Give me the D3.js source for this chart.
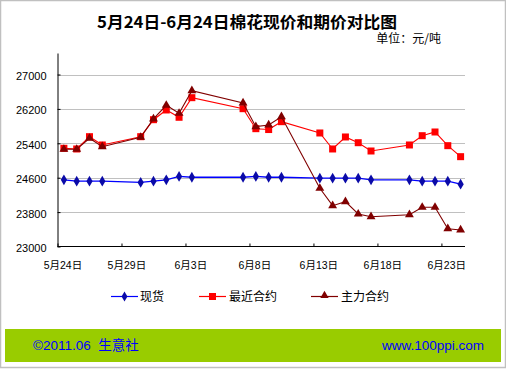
<!DOCTYPE html>
<html><head><meta charset="utf-8">
<script src="https://cdn.jsdelivr.net/npm/d3@7"></script>
<style>body{margin:0;background:#fff}svg{display:block}</style>
</head><body><svg id="c" width="506" height="369"></svg>
<script>
const dates = ["2011-05-24","2011-05-25","2011-05-26","2011-05-27","2011-05-30","2011-05-31","2011-06-01","2011-06-02","2011-06-03","2011-06-07","2011-06-08","2011-06-09","2011-06-10","2011-06-13","2011-06-14","2011-06-15","2011-06-16","2011-06-17","2011-06-20","2011-06-21","2011-06-22","2011-06-23","2011-06-24"];
const spot = [24550,24520,24520,24520,24490,24520,24550,24630,24610,24610,24630,24610,24610,24590,24590,24590,24590,24550,24550,24520,24520,24520,24450];
const nearest = [25284,25268,25554,25361,25554,25949,26175,26005,26461,26205,25740,25720,25903,25640,25268,25547,25414,25221,25361,25577,25663,25345,25089];
const main = [25261,25261,25517,25321,25540,25966,26284,26098,26624,26338,25787,25826,26019,24354,23949,24042,23756,23693,23740,23912,23912,23414,23384];
const yTicks = [23000,23800,24600,25400,26200,27000];
const xTickDates = ["2011-05-24","2011-05-29","2011-06-03","2011-06-08","2011-06-13","2011-06-18","2011-06-23"];
const xTickLabels = ["5月24日","5月29日","6月3日","6月8日","6月13日","6月18日","6月23日"];
const seriesNames = ["现货","最近合约","主力合约"];
const titleText = "5月24日-6月24日棉花现价和期价对比图";
const unitText = "单位：元/吨";
const footLeft = "©2011.06  生意社";
const footRight = "www.100ppi.com";

const svg = d3.select("#c");
const font = "'Liberation Sans','Noto Sans CJK SC',sans-serif";
const parse = d3.timeParse("%Y-%m-%d");
const noon = d => d3.timeHour.offset(parse(d), 12);

svg.append("rect").attr("x",0.5).attr("y",0.5).attr("width",505).attr("height",367)
  .attr("fill","#fff").attr("stroke","#c0c0c0").attr("stroke-width",1.5);

const x = d3.scaleTime().domain([parse("2011-05-24"), parse("2011-06-25")]).range([57.5, 467]);
const y = d3.scaleLinear().domain([23000, 27500]).range([246.5, 53]);

// gridlines
svg.append("g").selectAll("line").data(yTicks.slice(1)).join("line")
  .attr("x1",58).attr("x2",465).attr("y1",d=>Math.round(y(d))+0.5).attr("y2",d=>Math.round(y(d))+0.5)
  .attr("stroke","#c0c0c0").attr("stroke-width",1);

// y axis
const ya = svg.append("g").attr("transform","translate(57.5,0)")
  .call(d3.axisLeft(y).tickValues(yTicks).tickSize(-3).tickPadding(11).tickSizeOuter(0).tickFormat(d3.format("d")));
ya.select(".domain").attr("stroke","#000");
ya.selectAll(".tick line").attr("stroke","#000");
ya.selectAll("text").attr("font-family",font).attr("font-size","11px").attr("fill","#000").attr("dy","0.45em");

// x axis
const xa = svg.append("g").attr("transform","translate(0,246.5)")
  .call(d3.axisBottom(x).tickValues(xTickDates.map(parse)).tickSize(-3).tickSizeOuter(0).tickFormat(""));
xa.select(".domain").attr("stroke","#000").attr("d","M57.5,0H465");
xa.selectAll(".tick line").attr("stroke","#000");
svg.append("g").selectAll("text").data(xTickDates).join("text")
  .attr("x",(d)=>x(noon(d))-1).attr("y",269).attr("text-anchor","middle")
  .attr("font-family",font).attr("font-size","10.5px").attr("fill","#000")
  .text((d,i)=>xTickLabels[i]);

const line = d3.line().x((d,i)=>x(noon(dates[i]))).y(d=>y(d));
const pts = arr => arr.map((v,i)=>({x:x(noon(dates[i])), y:y(v)}));

// spot
svg.append("path").datum(spot).attr("d",line).attr("fill","none").attr("stroke","#0000ff").attr("stroke-width",1.3);
svg.append("g").selectAll("path").data(pts(spot)).join("path")
  .attr("d",d3.symbol(d3.symbolDiamond,34)).attr("transform",d=>`translate(${d.x},${d.y})`).attr("fill","#0a0aa8");
// nearest
svg.append("path").datum(nearest).attr("d",line).attr("fill","none").attr("stroke","#ff0000").attr("stroke-width",1.1);
svg.append("g").selectAll("rect").data(pts(nearest)).join("rect")
  .attr("x",d=>d.x-3.5).attr("y",d=>d.y-3.5).attr("width",7).attr("height",7).attr("fill","#ff0000");
// main
svg.append("path").datum(main).attr("d",line).attr("fill","none").attr("stroke","#800000").attr("stroke-width",1.1);
svg.append("g").selectAll("path").data(pts(main)).join("path")
  .attr("d",d3.symbol(d3.symbolTriangle,34)).attr("transform",d=>`translate(${d.x},${d.y})`).attr("fill","#800000");

// title
svg.append("text").attr("x",247).attr("y",28).attr("text-anchor","middle")
  .attr("font-family","'Noto Sans CJK SC',sans-serif").attr("font-weight","bold").attr("font-size","16px")
  .attr("textLength",300).attr("lengthAdjust","spacingAndGlyphs").attr("fill","#000").text(titleText);
svg.append("text").attr("x",441).attr("y",43).attr("text-anchor","end")
  .attr("font-family","'Noto Sans CJK SC',sans-serif").attr("font-size","12px").attr("fill","#000").text(unitText);

// legend
const lg = [{x1:111,x2:138,tx:140,c:"#0000ff",m:"#0a0aa8",t:"d"},{x1:199,x2:226,tx:229,c:"#ff0000",m:"#ff0000",t:"s"},{x1:311,x2:338,tx:341,c:"#800000",m:"#800000",t:"t"}];
lg.forEach((l,i)=>{
  const g = svg.append("g");
  g.append("line").attr("x1",l.x1).attr("x2",l.x2).attr("y1",296.5).attr("y2",296.5).attr("stroke",l.c).attr("stroke-width",1.2);
  const cx=(l.x1+l.x2)/2;
  if(l.t==="d") g.append("path").attr("d",d3.symbol(d3.symbolDiamond,30)).attr("transform",`translate(${cx},296.5)`).attr("fill",l.m);
  if(l.t==="s") g.append("rect").attr("x",cx-3.5).attr("y",293).attr("width",7).attr("height",7).attr("fill",l.m);
  if(l.t==="t") g.append("path").attr("d",d3.symbol(d3.symbolTriangle,30)).attr("transform",`translate(${cx},295.5)`).attr("fill",l.m);
  g.append("text").attr("x",l.tx).attr("y",301).attr("font-family","'Noto Sans CJK SC',sans-serif").attr("font-size","12px").attr("fill","#000").text(seriesNames[i]);
});

// footer
svg.append("rect").attr("x",5).attr("y",329).attr("width",496).attr("height",33).attr("fill","#99cc00");
svg.append("text").attr("x",33).attr("y",350).attr("font-family",font).attr("font-size","13.5px").attr("fill","#0000ff").attr("xml:space","preserve").text(footLeft);
svg.append("text").attr("x",484).attr("y",350).attr("text-anchor","end").attr("font-family",font).attr("font-size","13.5px").attr("fill","#0000ff").text(footRight);
</script></body></html>
